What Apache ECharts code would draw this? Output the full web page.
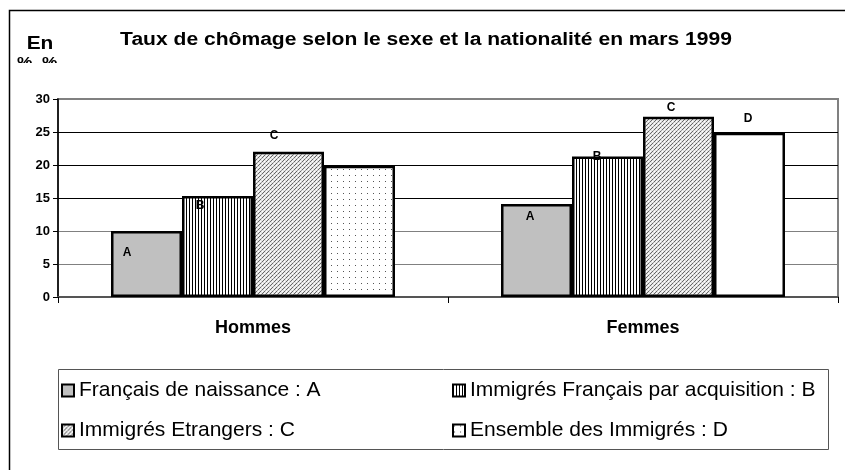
<!DOCTYPE html>
<html>
<head>
<meta charset="utf-8">
<script src="https://cdn.jsdelivr.net/npm/echarts@6/dist/echarts.min.js"></script>
<style>
  html, body { margin: 0; padding: 0; background: #fff; }
  #chart { width: 845px; height: 470px; }
</style>
</head>
<body>
<div id="chart"></div>
<script>
// Taux de chômage selon le sexe et la nationalité en mars 1999
var categories = ['Hommes', 'Femmes'];
var seriesNames = ['Français de naissance : A', 'Immigrés Français par acquisition : B', 'Immigrés Etrangers : C', 'Ensemble des Immigrés : D'];
var letters = ['A', 'B', 'C', 'D'];
var francaisNaissance = [10, 14.1];
var francaisAcquisition = [15.3, 21.3];
var immigresEtrangers = [22, 27.3];
var ensembleImmigres = [19.9, 24.9];
var yTicks = [0, 5, 10, 15, 20, 25, 30];

(function () {
  var font = 'Arial, "Liberation Sans", sans-serif';

  function pattern(w, h, draw) {
    var c = document.createElement('canvas');
    c.width = w; c.height = h;
    var ctx = c.getContext('2d');
    ctx.fillStyle = '#fff';
    ctx.fillRect(0, 0, w, h);
    draw(ctx);
    return { image: c, repeat: 'repeat' };
  }
  var fillA = '#c0c0c0';
  var fillB = pattern(3, 4, function (ctx) { ctx.fillStyle = '#000'; ctx.fillRect(0, 0, 1, 4); });
  var fillC = pattern(4, 4, function (ctx) {
    ctx.fillStyle = '#e4e4e4'; ctx.fillRect(0, 0, 4, 4);
    ctx.fillStyle = '#666';
    ctx.fillRect(3, 0, 1, 1); ctx.fillRect(2, 1, 1, 1); ctx.fillRect(0, 3, 1, 1);
    ctx.fillStyle = '#999'; ctx.fillRect(1, 2, 1, 1);
    ctx.fillStyle = '#fff'; ctx.fillRect(2, 3, 1, 1); ctx.fillRect(0, 1, 1, 1);
  });
  var fillD = pattern(6, 6, function (ctx) { ctx.fillStyle = '#555'; ctx.fillRect(1, 1, 1, 1); });
  var fills = [fillA, fillB, fillC, fillD];

  // position of each letter relative to the bar's top-left corner (null = no label)
  var labelPos = [
    [[16, 22], [29, 13]],
    [[18, 10], [25, 0]],
    [[21, -16], [28, -9]],
    [null, [34, -14]]
  ];
  var values = [francaisNaissance, francaisAcquisition, immigresEtrangers, ensembleImmigres];

  var series = values.map(function (vals, s) {
    return {
      name: seriesNames[s],
      type: 'bar',
      barWidth: 71,
      barGap: '0%',
      itemStyle: { color: fills[s], borderColor: '#000', borderWidth: 2.5 },
      data: vals.map(function (v, i) {
        var item = { value: v };
        var p = labelPos[s][i];
        item.label = p ? {
          show: true, position: p, align: 'center', verticalAlign: 'middle',
          formatter: letters[s], color: '#000', fontFamily: font, fontWeight: 'bold', fontSize: 12
        } : { show: false };
        if (s === 3 && i === 1) item.itemStyle = { color: '#fff' };
        return item;
      })
    };
  });

  var legendText = { color: '#000', fontFamily: font, fontSize: 21 };
  var legendBase = {
    orient: 'vertical', top: 380, padding: 0, itemWidth: 12, itemHeight: 12, itemGap: 19,
    icon: 'rect', textStyle: legendText, itemStyle: { borderColor: '#000', borderWidth: 2 }
  };

  var chart = echarts.init(document.getElementById('chart'), null, { renderer: 'canvas' });
  chart.setOption({
    animation: false,
    backgroundColor: '#fff',
    grid: { left: 58, right: 7, top: 99, bottom: 173, show: true, borderColor: '#808080', borderWidth: 2 },
    legend: [
      Object.assign({}, legendBase, { left: 61, data: [seriesNames[0], seriesNames[2]] }),
      Object.assign({}, legendBase, { left: 452, data: [seriesNames[1], seriesNames[3]] })
    ],
    xAxis: {
      type: 'category', data: categories,
      axisLine: { lineStyle: { color: '#555', width: 2 } },
      axisTick: { show: true, length: 6, lineStyle: { color: '#000', width: 1 } },
      axisLabel: { color: '#000', fontFamily: font, fontWeight: 'bold', fontSize: 18, margin: 22 }
    },
    yAxis: {
      type: 'value', min: yTicks[0], max: yTicks[yTicks.length - 1], interval: 5,
      axisLine: { show: true, lineStyle: { color: '#000', width: 1.5 } },
      axisTick: { show: true, length: 5, lineStyle: { color: '#000' } },
      axisLabel: { color: '#000', fontFamily: font, fontWeight: 'bold', fontSize: 13, margin: 8 },
      splitLine: { show: true, lineStyle: { color: ['#808080', '#808080', '#808080', '#000', '#000', '#000', '#808080'], width: 1.2 } }
    },
    graphic: [
      { type: 'polyline', shape: { points: [[9.5, 470], [9.5, 10.5], [845, 10.5]] }, style: { stroke: '#000', lineWidth: 1.5, fill: null }, silent: true },
      { type: 'rect', shape: { x: 58.5, y: 369.5, width: 770, height: 80 }, style: { stroke: '#555', lineWidth: 1, fill: null }, silent: true, z: -1 },
      { type: 'text', x: 426, y: 40, scaleX: 1.17, style: { text: 'Taux de chômage selon le sexe et la nationalité en mars 1999', font: 'bold 18px ' + font, fill: '#000', textAlign: 'center', textVerticalAlign: 'middle' } },
      { type: 'text', x: 40, y: 44, scaleX: 1.1, style: { text: 'En', font: 'bold 19px ' + font, fill: '#000', textAlign: 'center', textVerticalAlign: 'middle' } },
      { type: 'text', x: 17, y: 55, scaleX: 1.15, style: { text: '%  %', font: 'bold 15px ' + font, fill: '#000', textAlign: 'left', textVerticalAlign: 'top' } },
      { type: 'rect', shape: { x: 12, y: 63, width: 60, height: 20 }, style: { fill: '#fff' }, silent: true, z: 10 }
    ],
    series: series
  });
  window.addEventListener('resize', function () { chart.resize(); });
})();
</script>
</body>
</html>
